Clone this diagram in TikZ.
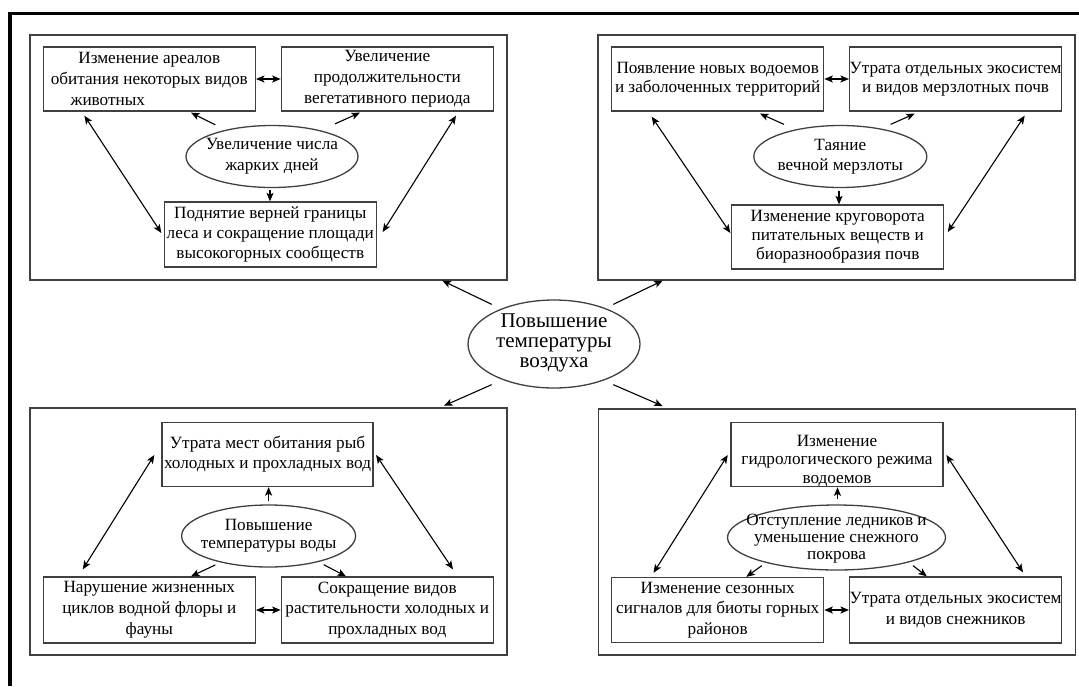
\documentclass[tikz,border=0pt]{standalone}
\usepackage{fontspec}
\setmainfont{Liberation Serif}
\usetikzlibrary{shapes.geometric,arrows.meta,calc}
\newcommand\bxf[1]{\fontsize{17.2}{#1}\selectfont}
\begin{document}
\begin{tikzpicture}[x=1pt,y=-1pt,
  panel/.style={draw=black!75,line width=1.3pt,rectangle,inner sep=0pt},
  box/.style={draw=black!75,line width=1.3pt,rectangle,inner sep=0pt,minimum width=212pt,minimum height=64pt,align=center,font={\bxf{20}}},
  oval/.style={draw=black!75,line width=1.3pt,ellipse,inner sep=0pt},
  lbl/.style={inner sep=0pt,align=center,font={\bxf{20}}},
  hd/.tip={Stealth[length=8.5pt,width=7pt,inset=2pt]},
  arr/.style={-hd,line width=1.1pt},
  darr/.style={hd-hd,line width=1.1pt}]
\useasboundingbox (0,0) rectangle (1079,686);
\draw[line width=3.5pt] (1079,13.5) -- (10,13.5) -- (10,686);

% panels
\node[panel,minimum width=477pt,minimum height=245pt] (pA) at (268.5,157.5) {};
\node[panel,minimum width=477pt,minimum height=245pt] (pB) at (836.5,157.5) {};
\node[panel,minimum width=477pt,minimum height=247pt] (pC) at (268.5,531.5) {};
\node[panel,minimum width=477pt,minimum height=246pt] (pD) at (837,532) {};

% panel A
\node[box,font={\bxf{21}}] (a1) at (149.3,79) {Изменение ареалов\\обитания некоторых видов\\животных\hspace*{83pt}};
\node[box,font={\bxf{21}}] (a2) at (387.3,79) {Увеличение\\продолжительности\\вегетативного периода};
\node[oval,minimum width=172pt,minimum height=62pt] (a0) at (272,156.5) {};
\node[lbl,font={\bxf{21}}] (a0t) at (a0) {Увеличение числа\\жарких дней};
\node[box,minimum height=65pt] (a3) at (270.3,234.5) {Поднятие верней границы\\леса и сокращение площади\\высокогорных сообществ};

% panel B
\node[box,font={\bxf{19.5}}] (b1) at (717.7,79) {Появление новых водоемов\\и заболоченных территорий};
\node[box,font={\bxf{19.5}}] (b2) at (955.6,79) {Утрата отдельных экосистем\\и видов мерзлотных почв};
\node[oval,minimum width=173pt,minimum height=62pt] (b0) at (840.3,156.5) {};
\node[lbl] (b0t) at (b0) {Таяние\\вечной мерзлоты};
\node[box,font={\bxf{19}}] (b3) at (837.7,237) {Изменение круговорота\\питательных веществ и\\биоразнообразия почв};

% centre
\node[oval,minimum width=172pt,minimum height=88pt] (m0) at (554,344) {};
\node[lbl,font={\fontsize{21}{20}\selectfont}] (m0t) at ($(m0)+(0,-1.5)$) {Повышение\\температуры\\воздуха};

% panel C
\node[box,minimum width=211pt] (c1) at (267.5,454.5) {Утрата мест обитания рыб\\холодных и прохладных вод};
\node[oval,minimum width=174pt,minimum height=62pt] (c0) at (268.6,536) {};
\node[lbl,font={\bxf{18}}] (c0t) at (c0) {Повышение\\температуры воды};
\node[box,minimum height=66pt,font={\bxf{21}}] (c2) at (149.3,610) {Нарушение жизненных\\циклов водной флоры и\\фауны};
\node[box,minimum height=66pt,font={\bxf{20.5}}] (c3) at (387.3,610) {Сокращение видов\\растительности холодных и\\прохладных вод};

% panel D
\node[box] (d1) at (837,454.7) {};
\node[lbl,font={\bxf{18.5}}] (d1t) at ($(d1)+(0,6)$) {Изменение\\гидрологического режима\\водоемов};
\node[oval,minimum width=218pt,minimum height=65pt] (d0) at (836.5,537.5) {};
\node[lbl,font={\bxf{17}}] (d0t) at ($(d0)+(0,1.5)$) {Отступление ледников и\\уменьшение снежного\\покрова};
\node[box,minimum height=65pt,font={\bxf{20.5}}] (d2) at (717.7,610) {Изменение сезонных\\сигналов для биоты горных\\районов};
\node[box,minimum height=66pt,font={\bxf{21}}] (d3) at (955.6,610) {Утрата отдельных экосистем\\и видов снежников};

% connectors A
\draw[darr] (a1.east) -- (a2.west);
\draw[arr] ($(a0.north)+(-56.7,0)$) -- ($(a1.south)+(41.7,1)$);
\draw[arr] ($(a0.north)+(63,-1)$) -- ($(a2.south)+(-27.3,1)$);
\draw[arr] ($(a0.south)+(-2,2)$) -- ($(a3.north)+(-0.3,0)$);
\draw[darr] ($(a1.south)+(-64.9,4)$) -- ($(a3.west)+(-2.3,-1.5)$);
\draw[darr] ($(a2.south)+(68.7,4)$) -- ($(a3.east)+(5.7,-2.5)$);

% connectors B
\draw[darr] (b1.east) -- (b2.west);
\draw[arr] ($(b0.north)+(-56.3,-0.5)$) -- ($(b1.south)+(42.3,2)$);
\draw[arr] ($(b0.north)+(50.4,-0.5)$) -- ($(b2.south)+(-40.9,2)$);
\draw[arr] ($(b0.south)+(-1.3,2.5)$) -- ($(b3.north)+(1.3,0)$);
\draw[darr] ($(b1.south)+(-66,5)$) -- ($(b3.west)+(-0.7,-4)$);
\draw[darr] ($(b2.south)+(69.1,4)$) -- ($(b3.east)+(3.4,-5)$);

% connectors centre
\draw[arr] ($(m0.north)+(-62.3,5)$) -- ($(pA.south east)+(-65.3,0)$);
\draw[arr] ($(m0.north)+(59.3,5)$) -- ($(pB.south west)+(65.3,0)$);
\draw[arr] ($(m0.south)+(-62.3,-4)$) -- ($(pC.north east)+(-63.7,-1.6)$);
\draw[arr] ($(m0.south)+(59.3,-4)$) -- ($(pD.north west)+(64.8,-2.3)$);

% connectors C
\draw[arr] ($(c0.north)+(0,-3)$) -- ($(c1.south)+(1.1,0)$);
\draw[arr] ($(c0.south)+(-53.3,-2.7)$) -- ($(c2.north)+(41.7,0)$);
\draw[arr] ($(c0.south)+(55.1,-3)$) -- ($(c3.north)+(-41.3,0)$);
\draw[darr] ($(c1.west)+(-7,0.5)$) -- ($(c2.north)+(-66.5,-7)$);
\draw[darr] ($(c1.east)+(2.4,0.5)$) -- ($(c3.north)+(65.7,-7)$);
\draw[darr] (c2.east) -- (c3.west);

% connectors D
\draw[arr] ($(d0.north)+(1,-5)$) -- ($(d1.south)+(0.5,0)$);
\draw[arr] ($(d0.south)+(-74.7,-5)$) -- ($(d2.north)+(28.6,0)$);
\draw[arr] ($(d0.south)+(76.5,-5)$) -- ($(d3.north)+(-28.8,0)$);
\draw[darr] ($(d1.west)+(-2.6,0.3)$) -- ($(d2.north)+(-64.2,-4)$);
\draw[darr] ($(d1.east)+(2.7,0.3)$) -- ($(d3.north)+(67.4,-4)$);
\draw[darr] (d2.east) -- (d3.west);
\end{tikzpicture}
\end{document}
